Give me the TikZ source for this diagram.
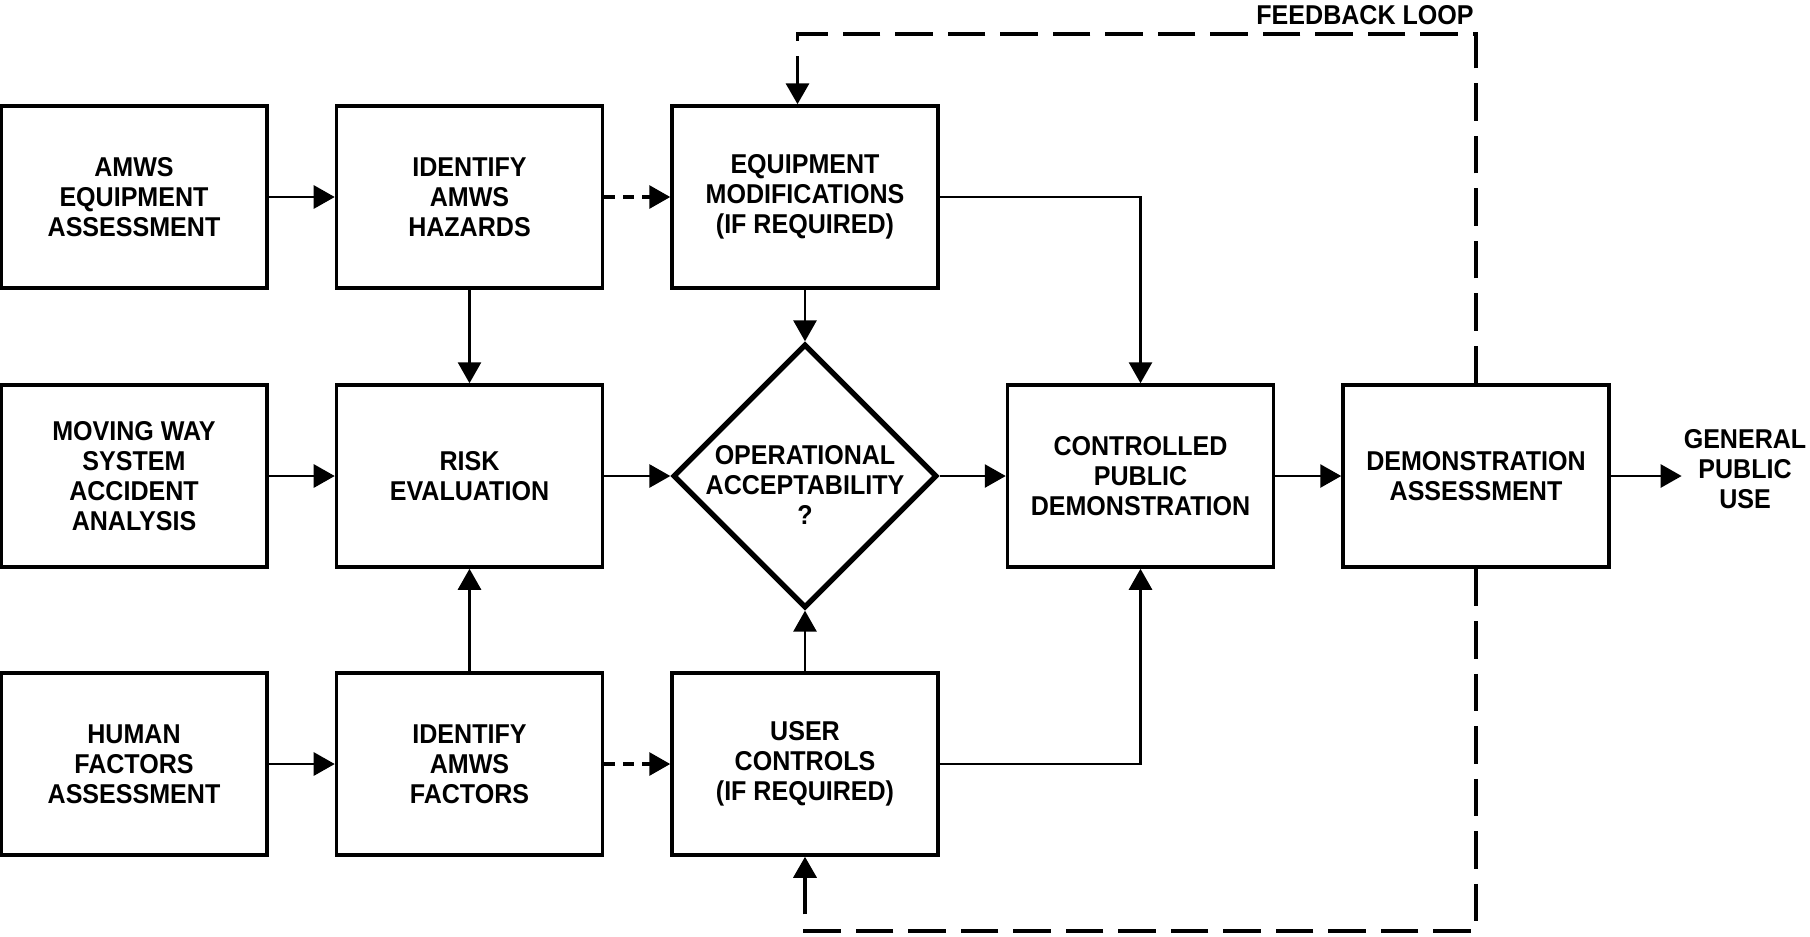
\documentclass[tikz,border=0pt]{standalone}
\usepackage{fontspec}
\setmainfont{Liberation Sans}[FakeStretch=0.92]
\usetikzlibrary{shapes.geometric,arrows.meta}
\begin{document}
\begin{tikzpicture}[
    font=\bfseries\fontsize{15.5}{17}\selectfont,
    box/.style={draw,line width=2pt,minimum width=5.32cm,minimum height=3.64cm,align=center,inner sep=2pt},
    decision/.style={draw,diamond,line width=3pt,minimum width=5.28cm,minimum height=5.28cm,inner sep=0pt},
    flow/.style={-{Triangle[length=0.42cm,width=0.46cm]},line width=1.6pt},
    maybe/.style={flow,line width=1.8pt,dash pattern=on 0.22cm off 0.16cm},
    feedback/.style={flow,line width=2pt,dash pattern=on 0.75cm off 0.3cm}]
    \useasboundingbox (0,0) rectangle (36.2,-18.72);

    % first column
    \node[box] (equip) at (2.68,-3.94) {AMWS\\EQUIPMENT\\ASSESSMENT};
    \node[box] (accident) at (2.68,-9.52) {MOVING WAY\\SYSTEM\\ACCIDENT\\ANALYSIS};
    \node[box] (human) at (2.68,-15.28) {HUMAN\\FACTORS\\ASSESSMENT};

    % second column
    \node[box] (hazards) at (9.39,-3.94) {IDENTIFY\\AMWS\\HAZARDS};
    \node[box] (risk) at (9.39,-9.52) {RISK\\EVALUATION};
    \node[box] (factors) at (9.39,-15.28) {IDENTIFY\\AMWS\\FACTORS};

    % third column
    \node[box] (eqmod) at (16.10,-3.94) {EQUIPMENT\\MODIFICATIONS\\(IF REQUIRED)};
    \node[decision] (accept) at (16.10,-9.52) {};
    \node[align=center] (accepttext) at ([yshift=-0.18cm]accept.center) {OPERATIONAL\\ACCEPTABILITY\\?};
    \node[box] (usrctl) at (16.10,-15.28) {USER\\CONTROLS\\(IF REQUIRED)};

    \node[box] (ctrldemo) at (22.81,-9.52) {CONTROLLED\\PUBLIC\\DEMONSTRATION};
    \node[box] (demo) at (29.52,-9.52) {DEMONSTRATION\\ASSESSMENT};
    \node[align=center,inner sep=1pt] (public) at (34.9,-9.38) {GENERAL\\PUBLIC\\USE};

    \node (fblabel) at (27.3,-0.31) {FEEDBACK LOOP};
    \coordinate (fbtop) at (0,-0.68);
    \coordinate (fbbot) at (0,-18.62);

    % connectors
    \draw[flow] (equip) -- (hazards);
    \draw[maybe] (hazards) -- (eqmod);
    \draw[flow] (hazards) -- (risk);
    \draw[flow] (eqmod) -- (accept);
    \draw[flow] (eqmod.east) -| (ctrldemo.north);
    \draw[flow] (accident) -- (risk);
    \draw[flow] (risk) -- (accept);
    \draw[flow] (accept) -- (ctrldemo);
    \draw[flow] (ctrldemo) -- (demo);
    \draw[flow] (demo.east) -- (demo.east -| public.west);
    \draw[flow] (human) -- (factors);
    \draw[maybe] (factors) -- (usrctl);
    \draw[flow] (factors) -- (risk);
    \draw[flow] (usrctl) -- (accept);
    \draw[flow] (usrctl.east) -| (ctrldemo.south);

    % feedback loop
    \draw[feedback] (demo.north) |- ([xshift=-0.15cm]eqmod.north |- fbtop) -- ([xshift=-0.15cm]eqmod.north);
    \draw[feedback] (demo.south) |- (usrctl.south |- fbbot) -- (usrctl.south);
\end{tikzpicture}
\end{document}
